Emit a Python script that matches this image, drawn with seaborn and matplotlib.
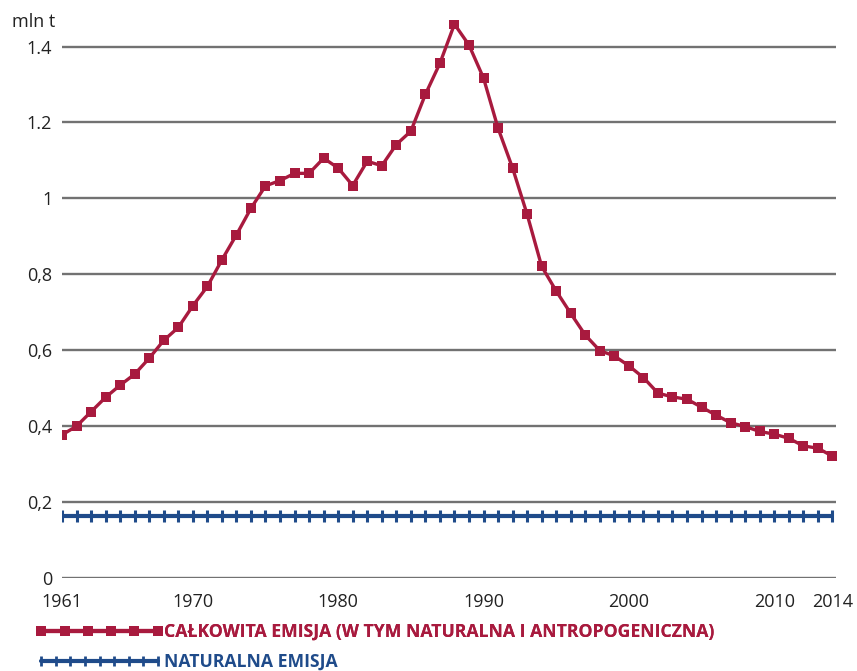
import matplotlib
matplotlib.use("Agg")
import matplotlib.pyplot as plt
import seaborn as sns
import pandas as pd
import numpy as np

years = list(range(1961, 2015))
total_emission = [
    0.377, 0.400, 0.438, 0.476, 0.508, 0.537, 0.579, 0.626, 0.660, 0.717,
    0.768, 0.838, 0.904, 0.974, 1.033, 1.047, 1.066, 1.066, 1.106, 1.080,
    1.034, 1.098, 1.086, 1.142, 1.177, 1.274, 1.356, 1.459, 1.404, 1.317,
    1.185, 1.080, 0.958, 0.821, 0.756, 0.697, 0.640, 0.599, 0.585, 0.559,
    0.528, 0.487, 0.477, 0.471, 0.450, 0.429, 0.409, 0.399, 0.386, 0.379,
    0.368, 0.348, 0.342, 0.321,
]
natural_emission = [0.163] * len(years)

xtick_values = [1961, 1970, 1980, 1990, 2000, 2010, 2014]
ytick_values = [0, 0.2, 0.4, 0.6, 0.8, 1.0, 1.2, 1.4]
ytick_labels = ["0", "0,2", "0,4", "0,6", "0,8", "1", "1.2", "1.4"]
label_total = "CAŁKOWITA EMISJA (W TYM NATURALNA I ANTROPOGENICZNA)"
label_natural = "NATURALNA EMISJA"
y_unit = "mln t"

RED = "#a81a3e"
BLUE = "#1f4b8a"
GRID = "#727272"

sns.set_theme(style="white")
plt.rcParams["font.family"] = ["Open Sans", "DejaVu Sans"]

df = pd.DataFrame({"year": years, "total": total_emission, "natural": natural_emission})

fig = plt.figure(figsize=(8.57, 6.71), dpi=100)
ax = fig.add_axes([62 / 857, 1 - 578 / 671, (836 - 62) / 857, (578 - 20) / 671])

for yv in ytick_values:
    ax.axhline(yv, color=GRID, lw=1.7, zorder=0)

sns.lineplot(data=df, x="year", y="natural", ax=ax, color=BLUE, lw=3.0,
             marker="|", markersize=8, markeredgewidth=2.2, markeredgecolor=BLUE,
             zorder=3)
sns.lineplot(data=df, x="year", y="total", ax=ax, color=RED, lw=2.4,
             marker="s", markersize=6.8, markeredgewidth=0, markerfacecolor=RED,
             zorder=4)

ax.set_xlim(1961, 2014.25)
ax.set_ylim(0, 1.47)
ax.set_xticks(xtick_values)
ax.set_xticklabels([str(v) for v in xtick_values], fontsize=13, color="#222222")
ax.set_yticks(ytick_values)
ax.set_yticklabels(ytick_labels, fontsize=13, color="#222222")
ax.tick_params(axis="both", length=0)
ax.tick_params(axis="y", pad=7)
ax.tick_params(axis="x", pad=11)
ax.set_xlabel("")
ax.set_ylabel("")
for s in ax.spines.values():
    s.set_visible(False)

fig.text(12 / 857, 1 - 22 / 671, y_unit, fontsize=13, color="#222222",
         ha="left", va="center")

# legends
from matplotlib.lines import Line2D
h_red = Line2D([], [], color=RED, lw=3.0, marker="s", markersize=7.5,
               markeredgewidth=0, markerfacecolor=RED)
h_blue = Line2D([], [], color=BLUE, lw=3.0, marker="|", markersize=7,
                markeredgewidth=2.0, markeredgecolor=BLUE)

leg1 = fig.legend([h_red], [label_total], loc="center left",
                  bbox_to_anchor=(36 / 857, 1 - 632 / 671), frameon=False,
                  numpoints=6, handlelength=7.2, handletextpad=0.05,
                  borderpad=0, borderaxespad=0,
                  prop={"weight": "bold", "size": 12.7})
for t in leg1.get_texts():
    t.set_color(RED)
leg2 = fig.legend([h_blue], [label_natural], loc="center left",
                  bbox_to_anchor=(36 / 857, 1 - 662 / 671), frameon=False,
                  numpoints=9, handlelength=7.2, handletextpad=0.05,
                  borderpad=0, borderaxespad=0,
                  prop={"weight": "bold", "size": 12.7})
for t in leg2.get_texts():
    t.set_color(BLUE)
fig.add_artist(leg1)

fig.savefig("out.png", dpi=100)
